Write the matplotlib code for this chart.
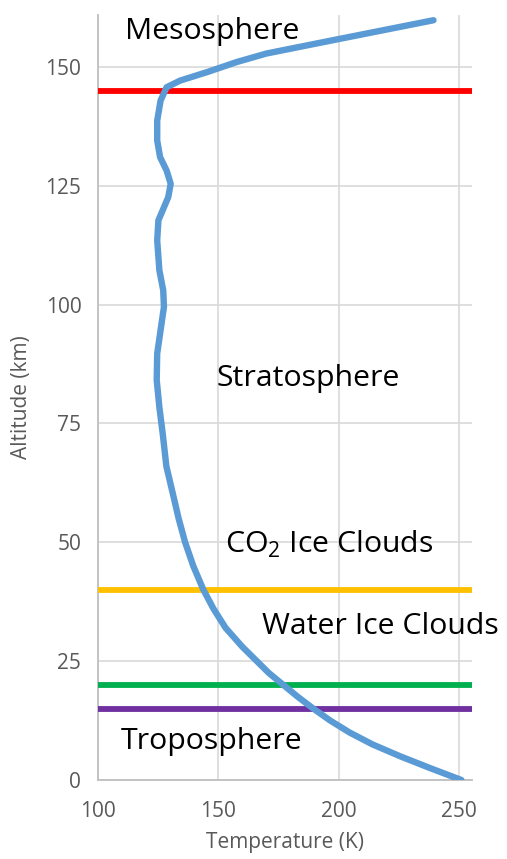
import matplotlib
matplotlib.use("Agg")
import matplotlib.pyplot as plt

# Data
altitude = [0, 2.5, 5, 7.5, 10, 12.5, 15, 17.5, 20, 22.5, 25, 28, 32, 36, 40, 45, 50, 55,
            60, 66, 72.8, 78.4, 84.1, 89.7, 94.6, 99.5, 103, 107.2, 113.5, 117.7, 119.5,
            122.6, 125.4, 128.2, 131, 134.5, 138.7, 142.9, 145.7, 147.1, 148.2, 149,
            151, 152.8, 155.9, 159.8]
temperature = [251, 238, 225.5, 214, 204.5, 196.5, 189.5, 183, 177, 171, 166, 160, 153,
               148, 143.8, 139.6, 136.2, 133.5, 131.2, 128.4, 126.9, 125.5, 124.4, 124.6,
               126, 127.4, 127.1, 125.5, 124.6, 125.1, 126.6, 129.2, 130.2, 128.5, 125.8,
               124.6, 124.6, 126, 128.5, 134.1, 141, 146, 157.6, 170, 200.6, 239.4]

layer_alts = [145, 40, 20, 15]
layer_colors = ["#FF0000", "#FFC000", "#00B050", "#7030A0"]

labels = ["Mesosphere", "Stratosphere", "CO$_2$ Ice Clouds", "Water Ice Clouds", "Troposphere"]
label_T = [147.5, 187.5, 196, 217.5, 147]
label_alt = [157.5, 84.5, 49.5, 32.2, 8]

xticks = [100, 150, 200, 250]
yticks = [0, 25, 50, 75, 100, 125, 150]

plt.rcParams['font.family'] = ['Open Sans', 'DejaVu Sans']
plt.rcParams['mathtext.fontset'] = 'custom'
plt.rcParams['mathtext.rm'] = 'Open Sans'

fig = plt.figure(figsize=(5.07, 8.59), dpi=100)
ax = fig.add_axes([98/507, 1 - 780/859, (472-98)/507, (780-15)/859])

ax.set_xlim(100, 255.4)
ax.set_ylim(0, 160.9)

for a, c in zip(layer_alts, layer_colors):
    ax.plot([100, 255.4], [a, a], color=c, lw=4.2, solid_capstyle='butt', zorder=3)

ax.plot(temperature, altitude, color="#5B9BD5", lw=4.6, solid_capstyle='round',
        solid_joinstyle='round', zorder=4)

for t, x, y in zip(labels, label_T, label_alt):
    ax.text(x, y, t, fontsize=21.8, ha='center', va='center', color='black', zorder=5,
            clip_on=False)

ax.set_xticks(xticks)
ax.set_yticks(yticks)
ax.grid(True, color="#D9D9D9", lw=1.2, zorder=0)
ax.set_axisbelow(True)
for s in ['top', 'right']:
    ax.spines[s].set_visible(False)
for s in ['left', 'bottom']:
    ax.spines[s].set_color("#BFBFBF")
    ax.spines[s].set_linewidth(1.3)
ax.tick_params(axis='x', pad=15)
ax.tick_params(axis='y', pad=12)
ax.tick_params(length=0, labelsize=15, colors="#595959")
ax.set_xlabel("Temperature (K)", fontsize=15, color="#595959", labelpad=7)
ax.set_ylabel("Altitude (km)", fontsize=15, color="#595959", labelpad=10)

fig.savefig("out.png", dpi=100)
